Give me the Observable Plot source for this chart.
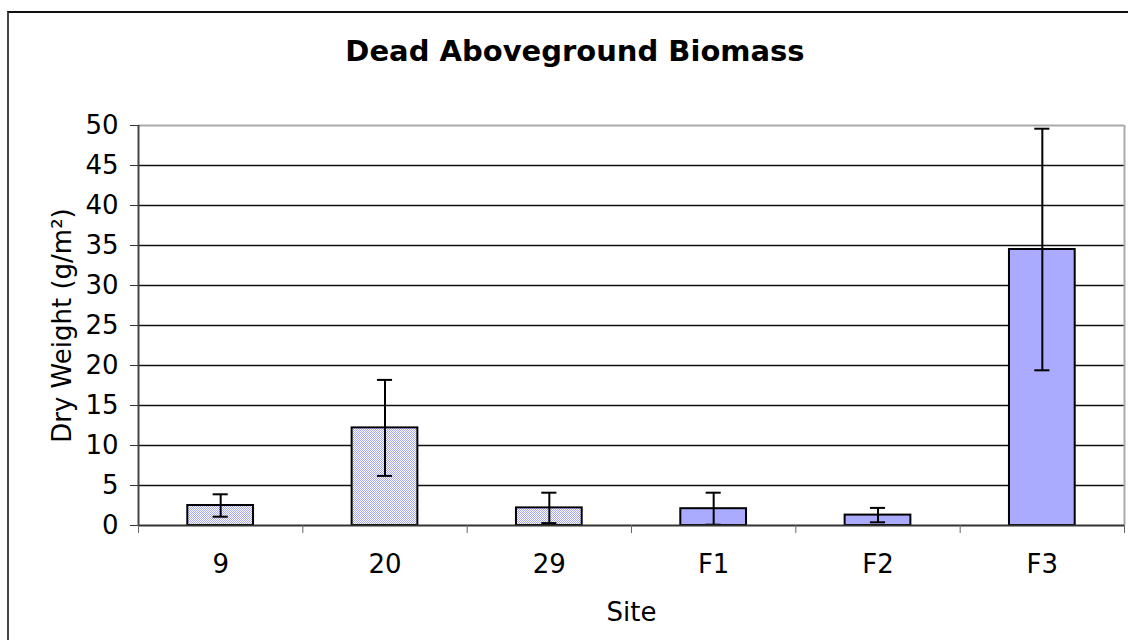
<!DOCTYPE html>
<html><head><meta charset="utf-8">
<script src="https://cdn.jsdelivr.net/npm/d3@7"></script>
<script src="https://cdn.jsdelivr.net/npm/@observablehq/plot@0.6"></script>
<style>
body{margin:0;background:#fff;}
#wrap{position:relative;width:1128px;height:640px;overflow:hidden;background:#fff;font-family:"DejaVu Sans",Verdana,sans-serif;}
#frame{position:absolute;left:7px;top:11px;width:1200px;height:700px;border-left:2px solid #444;border-top:2px solid #111;pointer-events:none;}
#title{position:relative;width:1150px;height:100px;box-sizing:border-box;padding-top:35px;line-height:32px;text-align:center;font-size:29px;font-weight:bold;color:#000;}
#chart{position:relative;}
</style>
</head><body>
<div id="wrap"><div id="frame"></div><div id="title">Dead Aboveground Biomass</div><div id="chart"></div></div>
<script>
const sites = ["9", "20", "29", "F1", "F2", "F3"];
const means = [2.5, 12.2, 2.2, 2.1, 1.3, 34.5];
const errors = [1.4, 6.0, 1.9, 2.0, 0.9, 15.1];
const patterned = [true, true, true, false, false, false];
const yTicks = [0, 5, 10, 15, 20, 25, 30, 35, 40, 45, 50];
const yLabel = "Dry Weight (g/m²)";
const xLabel = "Site";

const data = sites.map((s, i) => ({
  site: s, i, mean: means[i],
  lo: Math.max(0, means[i] - errors[i]), hi: means[i] + errors[i],
  pat: patterned[i]
}));

const half = 0.2;   // half bar width in band units (gap width 150%)
const cap = 0.046;  // half cap width
const FS = 26;

const plot = Plot.plot({
  width: 1128, height: 540,
  marginTop: 25, marginBottom: 115, marginLeft: 138, marginRight: 4,
  style: {fontFamily: "DejaVu Sans, Verdana, sans-serif", fontSize: FS + "px", color: "#000", background: "transparent", overflow: "visible"},
  x: {type: "linear", domain: [0, sites.length]},
  y: {domain: [0, 50]},
  marks: [
    Plot.ruleY(yTicks.slice(1, -1), {stroke: "#111", strokeWidth: 1.3}),
    Plot.ruleY([50], {stroke: "#aaa", strokeWidth: 2}),
    Plot.ruleX([sites.length], {stroke: "#aaa", strokeWidth: 2}),
    Plot.rectY(data, {x1: d => d.i + 0.5 - half, x2: d => d.i + 0.5 + half, y1: 0, y2: "mean",
      fill: d => d.pat ? "url(#dots)" : "#aaaaff", stroke: "#000", strokeWidth: 2}),
    Plot.ruleX(data, {x: d => d.i + 0.5, y1: "lo", y2: "hi", stroke: "#000", strokeWidth: 2}),
    Plot.ruleY(data, {y: "hi", x1: d => d.i + 0.5 - cap, x2: d => d.i + 0.5 + cap, stroke: "#000", strokeWidth: 2}),
    Plot.ruleY(data.filter(d => d.mean - errors[d.i] > 0), {y: "lo", x1: d => d.i + 0.5 - cap, x2: d => d.i + 0.5 + cap, stroke: "#000", strokeWidth: 2}),
    Plot.ruleY([0], {stroke: "#333", strokeWidth: 2}),
    Plot.ruleX([0], {stroke: "#444", strokeWidth: 2}),
    Plot.axisY({ticks: yTicks, tickSize: 8, tickPadding: 12, label: null, stroke: "#333", fill: "#000", fontSize: FS}),
    Plot.axisX({ticks: d3.range(sites.length + 1), tickSize: 8, tickFormat: () => "", label: null, stroke: "#666"}),
    Plot.text(data, {x: d => d.i + 0.5, text: "site", frameAnchor: "bottom", lineAnchor: "middle", dy: 39, fontSize: FS, fill: "#000"}),
    Plot.text([xLabel], {frameAnchor: "bottom", lineAnchor: "middle", dy: 87, fontSize: FS, fill: "#000"}),
    Plot.text([yLabel], {frameAnchor: "left", textAnchor: "middle", dx: -76, rotate: -90, fontSize: FS, fill: "#000"})
  ]
});

const svg = d3.select(plot);
const defs = svg.insert("defs", ":first-child");
const pat = defs.append("pattern").attr("id", "dots").attr("width", 2).attr("height", 2).attr("patternUnits", "userSpaceOnUse");
pat.append("rect").attr("width", 2).attr("height", 2).attr("fill", "#ffffff");
pat.append("rect").attr("width", 1).attr("height", 1).attr("fill", "#a6a6ff");
pat.append("rect").attr("x", 1).attr("y", 1).attr("width", 1).attr("height", 1).attr("fill", "#a6a6ff");
document.getElementById("chart").appendChild(plot);
</script>
</body></html>
